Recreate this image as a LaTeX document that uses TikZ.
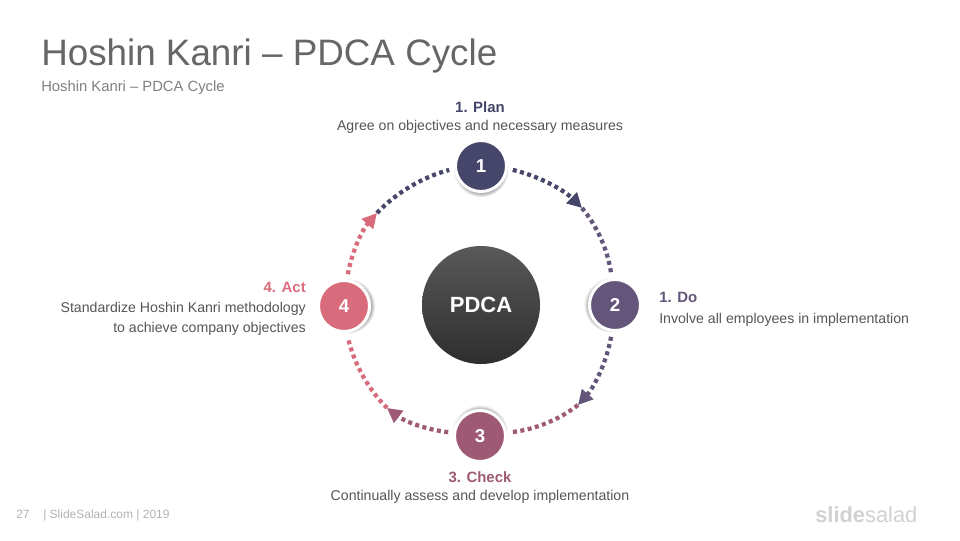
\documentclass[tikz,border=0pt]{standalone}
\usepackage{fontspec}
\setmainfont{Liberation Sans}
\usetikzlibrary{arrows,arrows.meta,shadows}

\definecolor{planc}{HTML}{46466A}
\definecolor{doc}{HTML}{64557A}
\definecolor{checkc}{HTML}{9E5A74}
\definecolor{actc}{HTML}{D96C7C}
\definecolor{txtc}{HTML}{555555}

\begin{document}
\begin{tikzpicture}[
x=0.75pt,y=-0.75pt,
title/.style={font=\fontsize{27.6}{30}\selectfont,text=black!60,anchor=base west,inner sep=0pt},
subtitle/.style={font=\fontsize{11.1}{13}\selectfont,text=gray,anchor=base west,inner sep=0pt},
foot/.style={font=\fontsize{9}{11}\selectfont,text=black!30,anchor=base west,inner sep=0pt},
head/.style={font=\fontsize{11.2}{14}\bfseries\selectfont,inner sep=0pt},
desc/.style={font=\fontsize{10.6}{15}\selectfont,text=txtc,inner sep=0pt},
num/.style={circle,draw=white,line width=2.25pt,minimum size=38.25pt,inner sep=0pt,outer sep=4.9pt,text=white,font=\fontsize{14}{16}\bfseries\selectfont},
seg/.style={line width=3.2pt,dash pattern=on 3pt off 2.6pt,bend left=15.75,looseness=.85},
arrow/.style={seg,-{Triangle[length=11pt,width=11pt]}}
]

\useasboundingbox[fill=white] (0,0) rectangle (960,540);

\node[title] (T) at (41,65) {Hoshin Kanri – PDCA Cycle};
\node[subtitle] (S) at (41,91) {Hoshin Kanri – PDCA Cycle};

\coordinate (a12) at (582,208);
\coordinate (a23) at (578,405);
\coordinate (a34) at (387,408);
\coordinate (a41) at (377,213);

\node[num,fill=planc,circular drop shadow={shadow xshift=0pt,shadow yshift=-2.5pt,shadow scale=1.08,opacity=.6}] (N1) at (481,166) {1};
\node[num,fill=doc,circular drop shadow={shadow xshift=-2.5pt,shadow yshift=0pt,shadow scale=1.08,opacity=.6}] (N2) at (615,305) {2};
\node[num,fill=checkc,circular drop shadow={shadow xshift=0pt,shadow yshift=2.5pt,shadow scale=1.08,opacity=.6}] (N3) at (480,436) {3};
\node[num,fill=actc,circular drop shadow={shadow xshift=2.5pt,shadow yshift=0pt,shadow scale=1.08,opacity=.6}] (N4) at (344,306) {4};

\draw[seg,planc] (a41) to (N1.187);
\draw[arrow,planc] (N1.353) to (a12);
\draw[seg,doc] (a12) to (N2.97);
\draw[arrow,doc] (N2.263) to (a23);
\draw[seg,checkc] (a23) to (N3.7);
\draw[arrow,checkc] (N3.173) to (a34);
\draw[seg,actc] (a34) to (N4.277);
\draw[arrow,actc] (N4.83) to (a41);

\node[circle,minimum size=88.5pt,inner sep=0pt,top color=black!65,bottom color=black!82,text=white,font=\fontsize{16.5}{18}\bfseries\selectfont] (PDCA) at (481,305) {PDCA};

\node[head,text=planc] (L1) at (480,107) {1. Plan};
\node[desc] (D1) at (480,127) {Agree on objectives and necessary measures};

\node[head,text=doc,anchor=west] (L2) at (659,297) {1. Do};
\node[desc,anchor=west] (D2) at (659,320) {Involve all employees in implementation};

\node[head,text=checkc] (L3) at (480,477) {3. Check};
\node[desc] (D3) at (480,497) {Continually assess and develop implementation};

\node[head,text=actc,anchor=east] (L4) at (306,287) {4. Act};
\node[desc,anchor=north east,align=right] (D4) at (306,302) {Standardize Hoshin Kanri methodology\\to achieve company objectives};

\node[foot] (F1) at (16,518) {27};
\node[foot] (F2) at (43,518) {| SlideSalad.com | 2019};
\node[anchor=base west,inner sep=0pt,text=black!18,font=\fontsize{16.4}{20}\selectfont] (W) at (815,522) {{\bfseries slide}salad};

\end{tikzpicture}
\end{document}
